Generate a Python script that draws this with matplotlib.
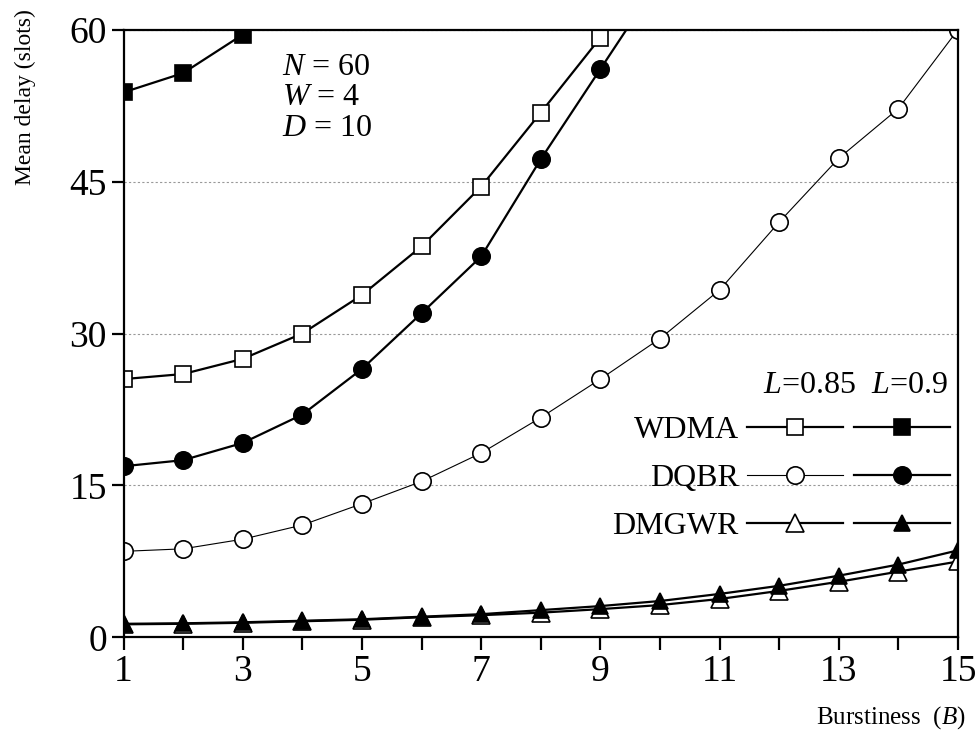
import matplotlib
matplotlib.use("Agg")
import matplotlib.pyplot as plt
from matplotlib.lines import Line2D
from matplotlib.ticker import FixedLocator, MultipleLocator

plt.rcParams['font.family'] = ['Liberation Serif', 'DejaVu Serif']
plt.rcParams['mathtext.fontset'] = 'custom'
plt.rcParams['mathtext.rm'] = 'Liberation Serif'
plt.rcParams['mathtext.it'] = 'Liberation Serif:italic'

# ---- data ----
B = list(range(1, 16))

wdma_085 = [25.5, 26.0, 27.5, 30.0, 33.8, 38.6, 44.5, 51.8, 59.2, 68.0]
wdma_09 = [53.8, 55.7, 59.5]
dqbr_085 = [8.5, 8.75, 9.7, 11.1, 13.2, 15.4, 18.2, 21.7, 25.5, 29.5,
            34.3, 41.0, 47.3, 52.2, 60.0]
dqbr_09 = [16.9, 17.5, 19.2, 22.0, 26.5, 32.0, 37.6, 47.2, 56.1, 65.0]
dmgwr_085 = [1.3, 1.35, 1.45, 1.6, 1.75, 2.0, 2.2, 2.45, 2.8, 3.2,
             3.8, 4.6, 5.5, 6.5, 7.5]
dmgwr_09 = [1.35, 1.4, 1.5, 1.65, 1.8, 2.05, 2.3, 2.7, 3.1, 3.6,
            4.3, 5.1, 6.1, 7.2, 8.6]

x_major = [1, 3, 5, 7, 9, 11, 13, 15]

fig = plt.figure(figsize=(9.78, 7.38), dpi=100)
ax = fig.add_axes([0.1263, 0.1362, 0.8533, 0.8238])

ms = 11
mew = 1.2
ax.plot(B[:len(wdma_085)], wdma_085, '-', color='k', lw=1.6, marker='s', ms=ms,
        mfc='white', mec='k', mew=mew)
ax.plot(B[:len(wdma_09)], wdma_09, '-', color='k', lw=1.6, marker='s', ms=ms,
        mfc='k', mec='k', mew=mew)
ax.plot(B, dqbr_085, '-', color='k', lw=0.8, marker='o', ms=12.5,
        mfc='white', mec='k', mew=mew)
ax.plot(B[:len(dqbr_09)], dqbr_09, '-', color='k', lw=1.6, marker='o', ms=12.5,
        mfc='k', mec='k', mew=mew)
ax.plot(B, dmgwr_085, '-', color='k', lw=1.6, marker='^', ms=12.5,
        mfc='white', mec='k', mew=mew)
ax.plot(B, dmgwr_09, '-', color='k', lw=1.6, marker='^', ms=11,
        mfc='k', mec='k', mew=mew)

ax.set_xlim(1, 15)
ax.set_ylim(0, 60)
ax.xaxis.set_major_locator(FixedLocator(x_major))
ax.xaxis.set_minor_locator(MultipleLocator(1))
ax.yaxis.set_major_locator(MultipleLocator(15))
ax.tick_params(axis='both', which='both', direction='out', length=9, width=1.6,
               labelsize=27, pad=3)
ax.tick_params(axis='y', which='minor', left=False)
for s in ax.spines.values():
    s.set_linewidth(1.6)
ax.grid(axis='y', which='major', color='#999999', ls=(0, (2, 2)), lw=0.8)

# legend: label on the left, two sample columns (L=0.85, L=0.9)
h = []
for mk, lw2, ms2 in [('s', 1.6, 11), ('o', 0.8, 12.5), ('^', 1.6, 12.5)]:
    h.append(Line2D([], [], color='k', lw=lw2, marker=mk, ms=ms2,
                    mfc='white', mec='k', mew=mew))
for mk, ms2 in [('s', 11), ('o', 12.5), ('^', 11)]:
    h.append(Line2D([], [], color='k', lw=1.6, marker=mk, ms=ms2,
                    mfc='k', mec='k', mew=mew))
labels = ['WDMA', 'DQBR', 'DMGWR', '', '', '']
leg = ax.legend(h, labels, ncol=2, markerfirst=False, frameon=False,
                loc='upper right', bbox_to_anchor=(0.99, 0.365),
                fontsize=23, handlelength=3.0, handletextpad=0.25,
                columnspacing=0.1, labelspacing=0.58, borderaxespad=0.0,
                borderpad=0.0)
ax.text(0.988, 0.415, '$L$=0.85  $L$=0.9', transform=ax.transAxes,
        ha='right', va='center', fontsize=23)

ax.text(0.19, 0.962, '$N$ = 60\n$W$ = 4\n$D$ = 10', transform=ax.transAxes,
        ha='left', va='top', fontsize=23, linespacing=1.07)

fig.text(0.026, 0.868, 'Mean delay (slots)', rotation=90, ha='center',
         va='center', fontsize=17)
fig.text(0.987, 0.028, 'Burstiness  ($B$)', ha='right', va='center', fontsize=18)

fig.savefig('out.png', dpi=100)
